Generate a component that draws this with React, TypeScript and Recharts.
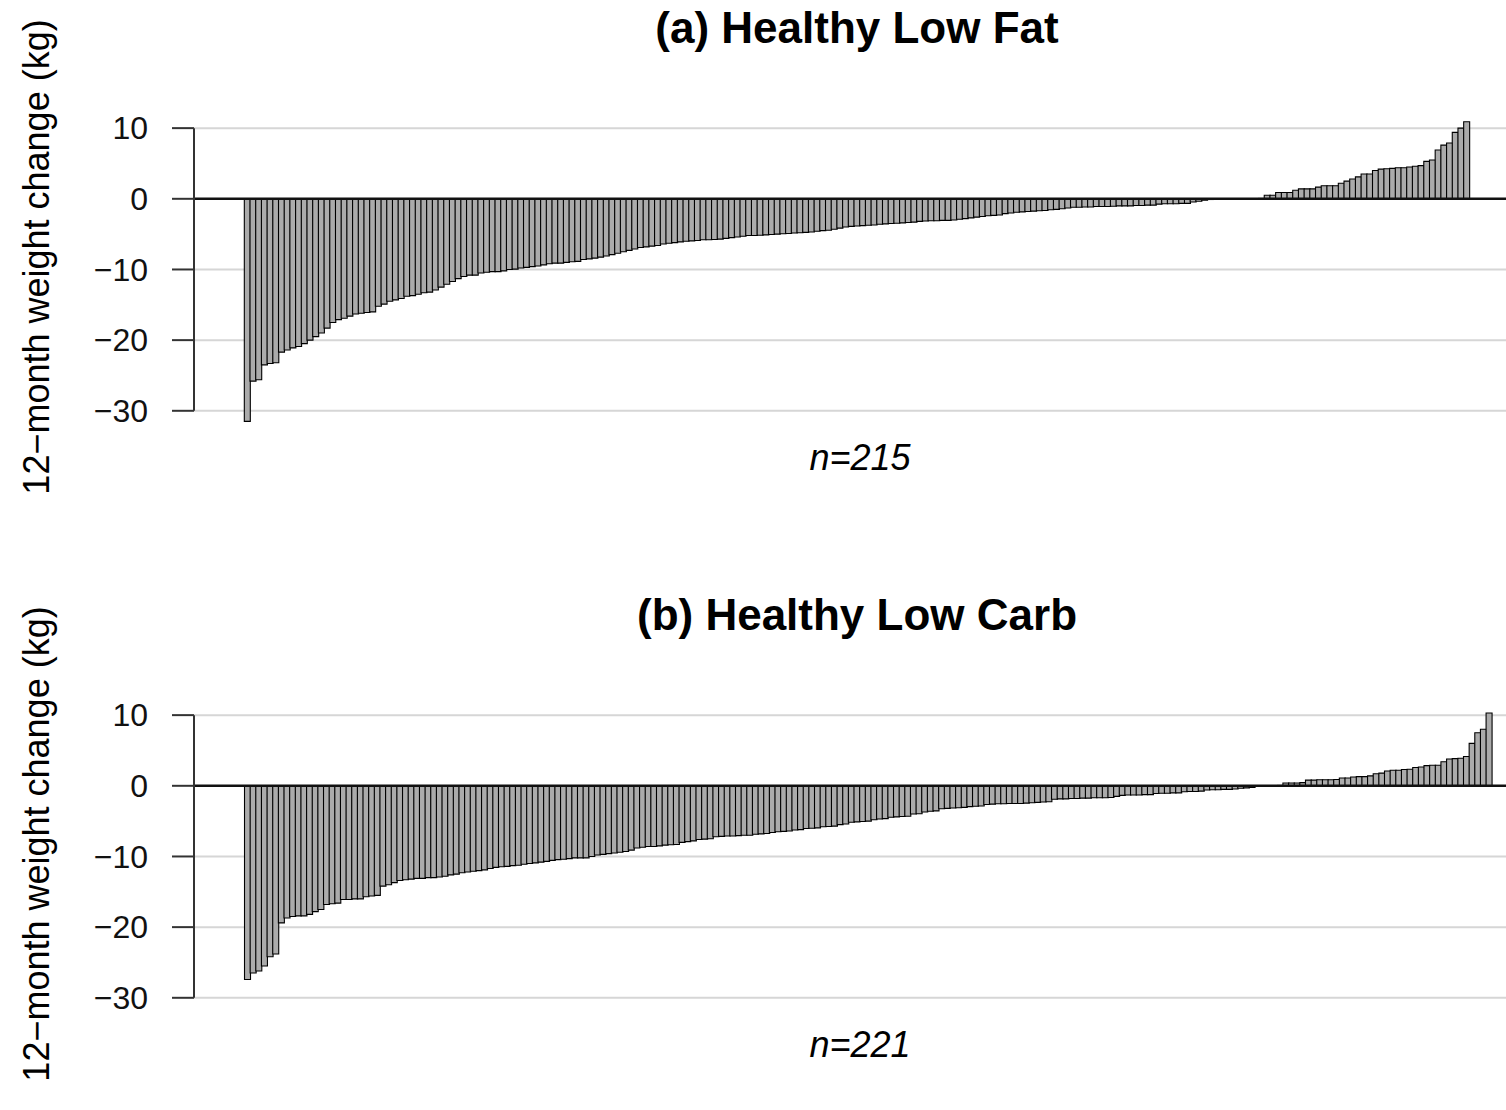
import React from 'react';
import { BarChart, Bar, XAxis, YAxis, CartesianGrid, ReferenceLine } from 'recharts';

// 12-month weight change per participant, sorted (kg)
const lowFatChange = [
  -31.5, -25.8, -25.6, -23.5, -23.3, -23.2, -21.7, -21.4, -21.1, -20.9,
  -20.5, -20.0, -19.5, -19.0, -18.3, -17.5, -17.1, -16.9, -16.6, -16.3,
  -16.2, -16.1, -16.0, -15.2, -14.9, -14.5, -14.3, -14.1, -13.8, -13.7,
  -13.5, -13.3, -13.2, -12.9, -12.5, -12.1, -11.7, -11.3, -11.0, -10.8,
  -10.8, -10.5, -10.4, -10.3, -10.3, -10.2, -10.0, -9.95, -9.8, -9.7,
  -9.6, -9.5, -9.35, -9.2, -9.1, -9.1, -9.0, -8.9, -8.85, -8.6,
  -8.5, -8.4, -8.25, -8.1, -7.9, -7.7, -7.5, -7.3, -7.1, -6.9,
  -6.8, -6.7, -6.6, -6.4, -6.3, -6.2, -6.1, -6.0, -5.95, -5.9,
  -5.8, -5.8, -5.75, -5.7, -5.6, -5.5, -5.4, -5.3, -5.2, -5.2,
  -5.15, -5.1, -5.05, -5.0, -4.95, -4.9, -4.85, -4.8, -4.75, -4.7,
  -4.6, -4.5, -4.45, -4.3, -4.15, -4.0, -3.9, -3.85, -3.8, -3.75,
  -3.7, -3.6, -3.55, -3.5, -3.45, -3.4, -3.35, -3.3, -3.2, -3.15,
  -3.1, -3.1, -3.05, -3.05, -3.0, -2.9, -2.8, -2.7, -2.6, -2.5,
  -2.4, -2.35, -2.3, -2.1, -2.0, -1.9, -1.85, -1.8, -1.75, -1.7,
  -1.65, -1.55, -1.5, -1.4, -1.3, -1.2, -1.2, -1.15, -1.15, -1.1,
  -1.1, -1.1, -1.05, -1.0, -1.0, -1.0, -0.95, -0.95, -0.9, -0.9,
  -0.75, -0.7, -0.7, -0.7, -0.65, -0.65, -0.45, -0.35, -0.2, -0.1,
  -0.05, 0, 0, 0, 0, 0, 0, 0, 0.05,
  0.5, 0.5, 0.9, 0.9, 0.9, 1.2, 1.4, 1.4, 1.4, 1.65, 1.85,
  1.85, 1.85, 2.2, 2.5, 2.8, 3.1, 3.5, 3.5, 4.0, 4.2,
  4.25, 4.3, 4.4, 4.4, 4.5, 4.6, 4.7, 5.3, 5.5, 6.9,
  7.6, 7.9, 9.4, 10.0, 10.9,
];

const lowCarbChange = [
  -27.4, -26.5, -26.2, -25.5, -24.2, -23.8, -19.4, -18.7, -18.5, -18.4,
  -18.4, -18.2, -17.8, -17.5, -16.8, -16.7, -16.6, -16.1, -16.1, -16.0,
  -16.0, -15.7, -15.6, -15.5, -14.2, -14.0, -13.7, -13.4, -13.3, -13.2,
  -13.1, -13.1, -13.0, -13.0, -12.9, -12.8, -12.6, -12.5, -12.3, -12.2,
  -12.1, -12.0, -11.9, -11.7, -11.55, -11.45, -11.4, -11.3, -11.25, -11.1,
  -11.0, -10.9, -10.8, -10.7, -10.55, -10.45, -10.4, -10.3, -10.2, -10.2,
  -10.2, -10.0, -9.8, -9.7, -9.6, -9.5, -9.4, -9.3, -9.1, -8.8,
  -8.7, -8.6, -8.6, -8.5, -8.4, -8.35, -8.3, -8.0, -7.9, -7.8,
  -7.6, -7.55, -7.5, -7.2, -7.15, -7.1, -7.1, -7.05, -7.0, -7.0,
  -6.85, -6.8, -6.75, -6.6, -6.5, -6.45, -6.4, -6.25, -6.2, -6.05,
  -6.0, -5.95, -5.8, -5.75, -5.7, -5.5, -5.4, -5.15, -5.1, -5.05,
  -5.0, -4.8, -4.7, -4.65, -4.45, -4.4, -4.35, -4.3, -4.0, -3.95,
  -3.7, -3.6, -3.55, -3.25, -3.2, -3.15, -3.1, -3.05, -2.95, -2.9,
  -2.85, -2.65, -2.6, -2.55, -2.55, -2.5, -2.5, -2.5, -2.45, -2.4,
  -2.35, -2.3, -2.25, -1.9, -1.85, -1.85, -1.8, -1.8, -1.75, -1.75,
  -1.7, -1.7, -1.7, -1.65, -1.5, -1.35, -1.3, -1.3, -1.3, -1.25,
  -1.25, -1.1, -1.05, -1.05, -1.0, -1.0, -0.85, -0.8, -0.8, -0.75,
  -0.6, -0.55, -0.55, -0.5, -0.5, -0.45, -0.35, -0.3, -0.25, -0.05,
  0, 0, 0, 0.05,
  0.4, 0.4, 0.4, 0.45, 0.8, 0.8, 0.85, 0.85, 0.85, 0.9,
  1.1, 1.1, 1.25, 1.3, 1.3, 1.4, 1.7, 1.8, 2.1, 2.2,
  2.2, 2.3, 2.35, 2.6, 2.65, 2.85, 2.9, 2.9, 3.4, 3.8,
  3.85, 3.9, 4.15, 6.0, 7.5, 8.0, 10.3,
];

const yTicks = [10, 0, -10, -20, -30];
const gridValues = [10, -10, -20, -30];
const panelTitles = ['(a) Healthy Low Fat', '(b) Healthy Low Carb'];
const yLabel = '12\u2212month weight change (kg)';

const FONT = '"Liberation Sans", Arial, Helvetica, sans-serif';
const W = 1506;
const PANEL_H = 587;

const fmtTick = (v: number) => (v < 0 ? `\u2212${Math.abs(v)}` : `${v}`);

interface PanelProps {
  values: number[];
  xDomain: [number, number];
}

function WaterfallPanel({ values, xDomain }: PanelProps) {
  const rows = values.map((v, i) => ({ id: i + 1, change: v }));
  return (
    <BarChart
      width={W}
      height={PANEL_H}
      data={rows}
      margin={{ top: 114, right: 0, bottom: 155, left: 0 }}
      barCategoryGap={0}
      barGap={0}
    >
      <CartesianGrid
        vertical={false}
        horizontalValues={gridValues}
        stroke="#d6d6d6"
        strokeWidth={2}
      />
      <XAxis type="number" dataKey="id" domain={xDomain} hide allowDataOverflow />
      <YAxis
        type="number"
        domain={[-33, 12]}
        ticks={yTicks}
        width={194}
        axisLine={false}
        tickLine={{ stroke: '#333', strokeWidth: 2 }}
        tickSize={22}
        tickMargin={24}
        tickFormatter={fmtTick}
        tick={{ fill: '#111', fontSize: 32, fontFamily: FONT }}
        interval={0}
      />
      <Bar
        dataKey="change"
        fill="#ababab"
        stroke="#000"
        strokeWidth={1.1}
        isAnimationActive={false}
      />
      <ReferenceLine y={0} stroke="#111" strokeWidth={2.5} />
      <ReferenceLine
        segment={[
          { x: xDomain[0], y: -30 },
          { x: xDomain[0], y: 10 },
        ]}
        stroke="#333"
        strokeWidth={2}
        ifOverflow="visible"
      />
    </BarChart>
  );
}

export default function App() {
  const panels = [
    { values: lowFatChange, xDomain: [-8.33, 221.93] as [number, number] },
    { values: lowCarbChange, xDomain: [-8.45, 224.03] as [number, number] },
  ];
  return (
    <div style={{ position: 'relative', width: W, height: 1110, background: '#fff', fontFamily: FONT }}>
      <style>{'body{margin:0;background:#fff}'}</style>
      {panels.map((p, i) => (
        <div key={i} style={{ position: 'absolute', left: 0, top: i * PANEL_H }}>
          <WaterfallPanel values={p.values} xDomain={p.xDomain} />
        </div>
      ))}
      <svg
        width={W}
        height={1110}
        style={{ position: 'absolute', left: 0, top: 0, pointerEvents: 'none' }}
      >
        {panels.map((p, i) => {
          const off = i * PANEL_H;
          return (
            <g key={i} fontFamily={FONT} fill="#000">
              <text x={857} y={43 + off} textAnchor="middle" fontSize={44} fontWeight="bold">
                {panelTitles[i]}
              </text>
              <text x={860} y={470 + off} textAnchor="middle" fontSize={36} fontStyle="italic">
                {`n=${p.values.length}`}
              </text>
              <text
                x={0}
                y={0}
                transform={`translate(49, ${257 + off}) rotate(-90)`}
                textAnchor="middle"
                fontSize={36}
              >
                {yLabel}
              </text>
            </g>
          );
        })}
      </svg>
    </div>
  );
}
